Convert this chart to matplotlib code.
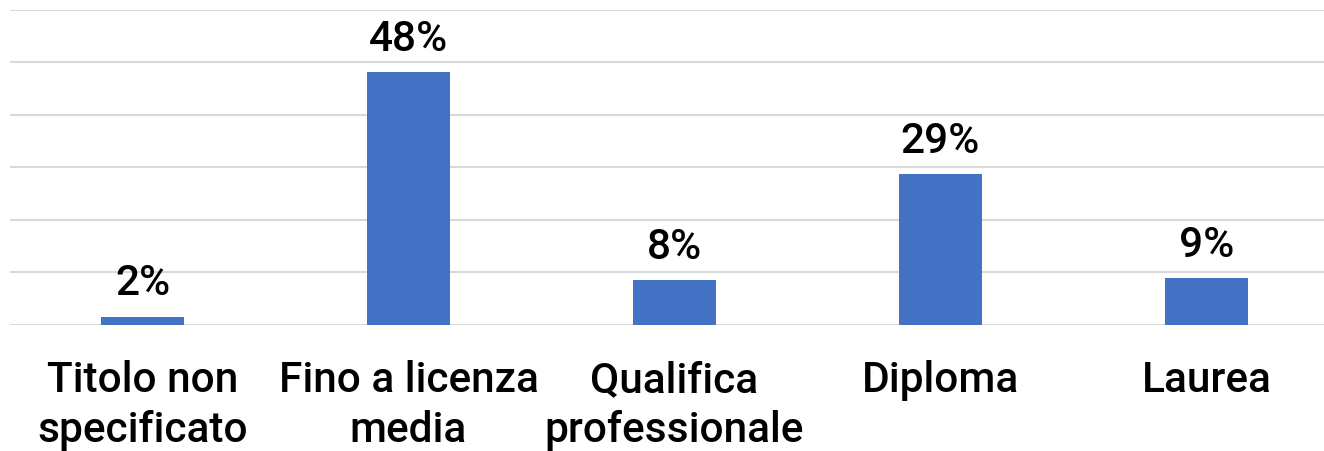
import matplotlib
matplotlib.use("Agg")
import matplotlib.pyplot as plt

categories = ["Titolo non\nspecificato", "Fino a licenza\nmedia", "Qualifica\nprofessionale", "Diploma", "Laurea"]
values = [1.5, 48.2, 8.5, 28.7, 8.9]
value_labels = ["2%", "48%", "8%", "29%", "9%"]

plt.rcParams['font.family'] = ['Roboto', 'DejaVu Sans']

fig = plt.figure(figsize=(13.24, 4.52), dpi=100)
W, H = 1324, 452
left_px, right_px, top_px, bottom_px = 9.5, 1339.5, 11, 325.5
ax = fig.add_axes([left_px / W, 1 - bottom_px / H, (right_px - left_px) / W, (bottom_px - top_px) / H])

x = list(range(len(categories)))
bars = ax.bar(x, values, width=0.313, color="#4472C4", zorder=3)

ax.set_xlim(-0.5, len(categories) - 0.5)
ax.set_ylim(0, 60)
ax.set_yticks(range(0, 61, 10))
ax.yaxis.grid(True, color="#D9D9D9", linewidth=1.5, zorder=0)
ax.tick_params(axis='y', left=False, labelleft=False)
ax.tick_params(axis='x', bottom=False, labelbottom=False)
ax.set_xticks(x)
for s in ax.spines.values():
    s.set_visible(False)

# category labels below the axis
for xi, cat in zip(x, categories):
    ax.annotate(cat, (xi, 0), xytext=(0, -25), textcoords='offset points',
                ha='center', va='top', multialignment='center', linespacing=1.26,
                fontsize=30.5, fontweight='medium', color="black", annotation_clip=False)

for xi, v, t in zip(x, values, value_labels):
    ax.annotate(t, (xi, v), xytext=(0, 16), textcoords='offset points',
                ha='center', va='baseline', fontsize=30.5, fontweight='medium', color="black")

fig.savefig("out.png", dpi=100)
